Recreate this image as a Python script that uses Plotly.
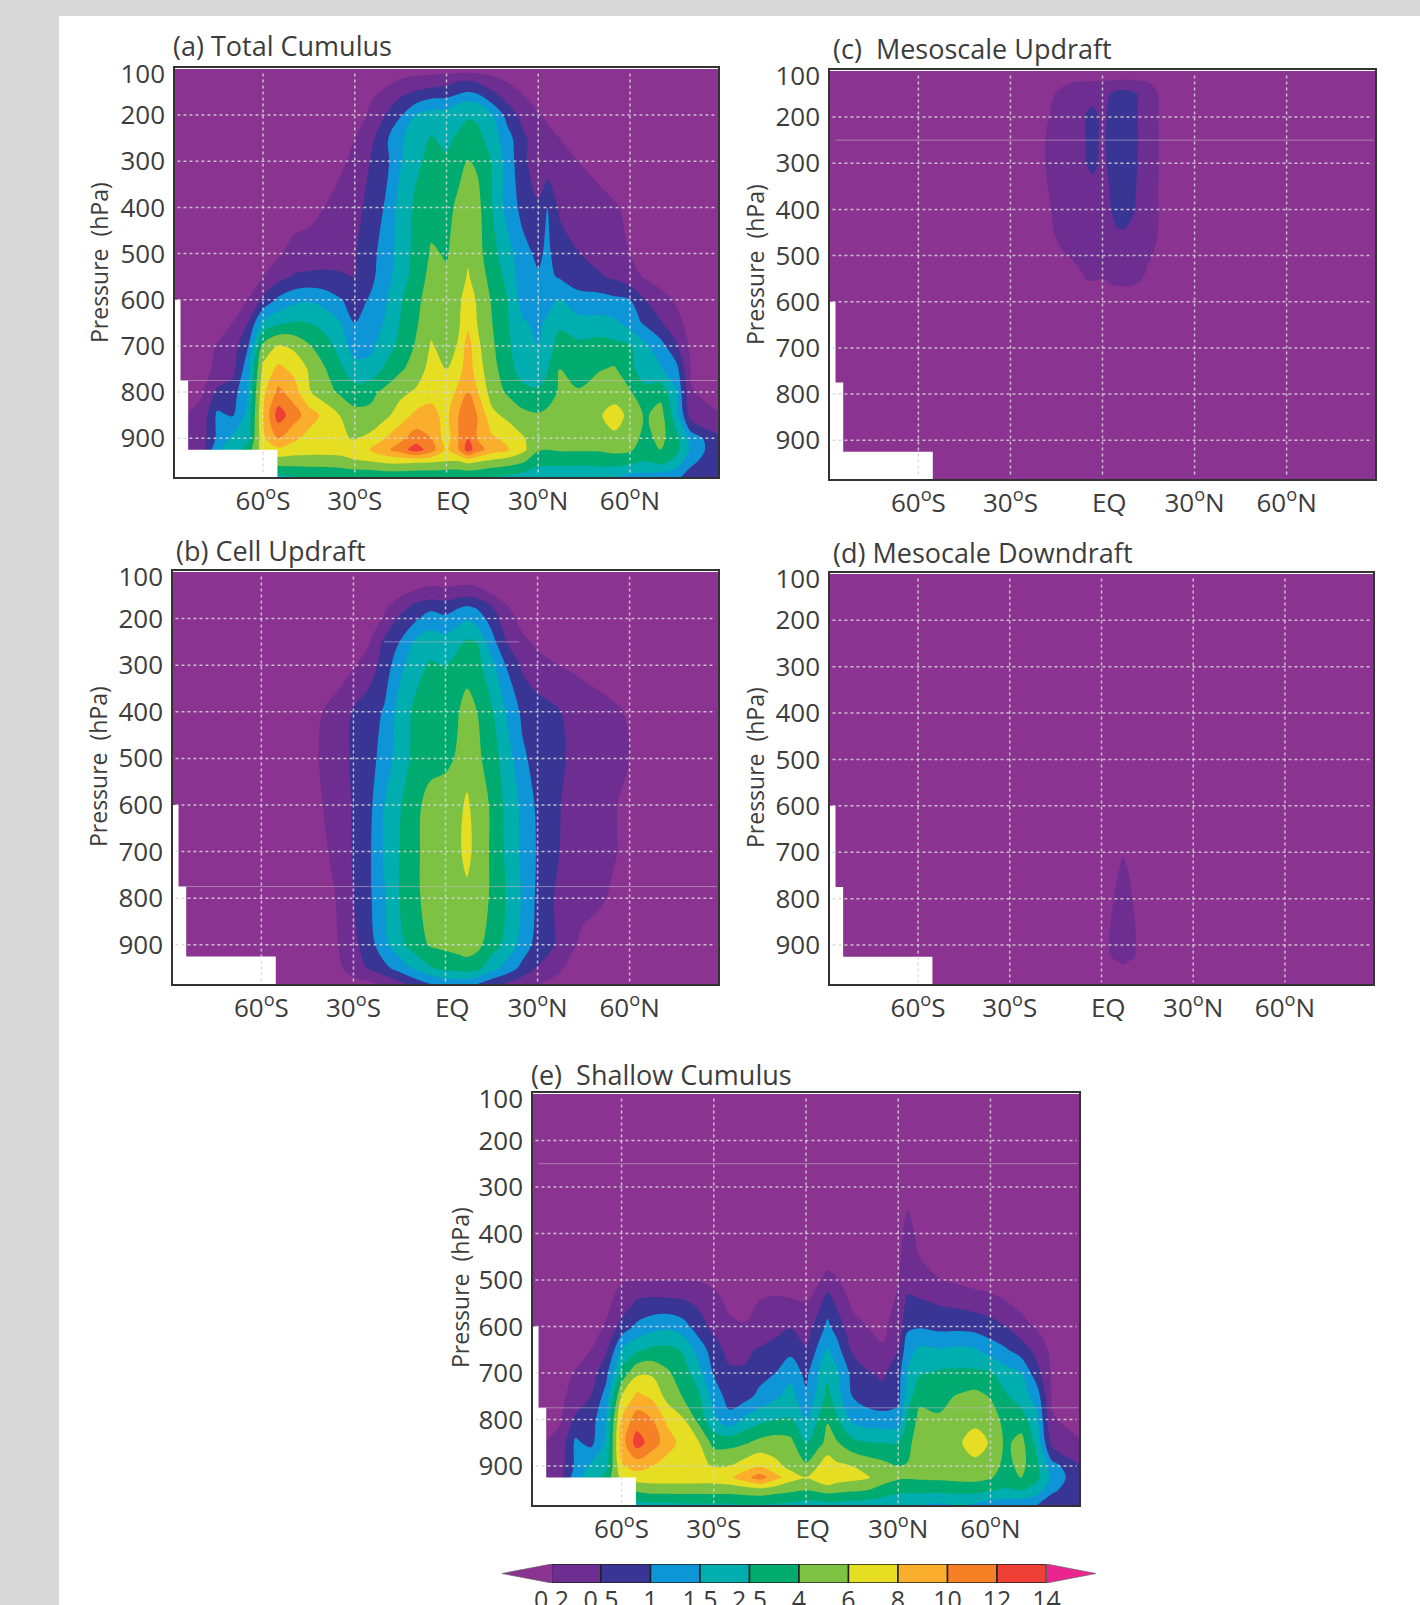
import numpy as np
import plotly.graph_objects as go

# ---- shared ----
LEVELS = [0.2, 0.5, 1, 1.5, 2.5, 4, 6, 8, 10, 12, 14]
LEVEL_LABELS = ["0.2", "0.5", "1", "1.5", "2.5", "4", "6", "8", "10", "12", "14"]
BAND_COLORS = ["#8b3390", "#6e2d91", "#393594", "#0d95d8", "#00aeb0", "#00ab6f",
               "#7dc242", "#e6de22", "#fbae2b", "#f58025", "#ee4036", "#ec2490"]
LAT_TICKS = [-60, -30, 0, 30, 60]
LAT_LABELS = ["60<sup>o</sup>S", "30<sup>o</sup>S", "\u00a0\u00a0EQ", "30<sup>o</sup>N", "60<sup>o</sup>N"]
P_TICKS = [100, 200, 300, 400, 500, 600, 700, 800, 900]
MASK_LAT = [-90, -87, -87, -84.5, -84.5, -55.3, -55.3, -90]
MASK_P = [600, 600, 775, 775, 925, 925, 990, 990]

LAT_WIDE = [-89, -80, -75, -70, -65, -60, -55, -50, -45, -40, -35,
            -30, -25, -20, -15, -10, -5, 0,
            4, 7, 10, 15, 20, 25, 30,
            33, 37, 43, 50, 55, 60, 65, 70, 75, 80, 89]

# ---- (a) Total Cumulus ----
P_A = [100, 125, 150, 175, 200, 250, 300, 400, 500, 550, 600, 650, 700, 750, 800, 850, 900, 925, 950, 985]
Z_A = [
 [.1,.1,.1,.1,.1,.1,.1,.1,.1,.1,.1, .1,.1,.1,.1,.1,.1,.1, .1,.1,.1,.1,.1,.1,.1, .1,.1,.1,.1,.1,.1,.1,.1,.1,.1,.1],
 [.1,.1,.1,.1,.1,.1,.1,.1,.1,.1,.1, .1,.1,.15,.22,.3,.35,.4, .48,.5,.45,.3,.18,.12,.1, .1,.1,.1,.1,.1,.1,.1,.1,.1,.1,.1],
 [.1,.1,.1,.1,.1,.1,.1,.1,.1,.1,.1, .1,.15,.25,.4,.55,.65,.7, .9,1,.9,.55,.35,.18,.12, .1,.1,.1,.1,.1,.1,.1,.1,.1,.1,.1],
 [.1,.1,.1,.1,.1,.1,.1,.1,.1,.1,.1, .1,.2,.35,.7,1,1.25,1.3, 1.5,1.7,1.6,1,.5,.3,.15, .12,.1,.1,.1,.1,.1,.1,.1,.1,.1,.1],
 [.1,.1,.1,.1,.1,.1,.1,.1,.1,.1,.1, .15,.22,.5,.95,1.55,1.9,1.9, 2.1,2.4,2.3,1.5,.8,.4,.22, .18,.12,.1,.1,.1,.1,.1,.1,.1,.1,.1],
 [.1,.1,.1,.1,.1,.1,.1,.1,.1,.1,.15, .2,.4,.9,1.4,2.2,2.6,2.3, 2.8,3.1,3,2,1.2,.6,.35, .25,.2,.13,.1,.1,.1,.1,.1,.1,.1,.1],
 [.1,.1,.1,.1,.1,.1,.1,.1,.1,.12,.17, .25,.5,.85,1.45,2.3,2.9,2.7, 3.5,4.1,3.8,2.4,1.3,.6,.35, .3,.25,.2,.15,.12,.1,.1,.1,.1,.1,.1],
 [.1,.1,.1,.1,.1,.1,.1,.1,.14,.2,.28, .4,.65,1.05,1.9,2.8,3.5,3.5, 4.5,5.3,4.7,2.5,1.3,.85,.55, 1.0,.45,.33,.27,.22,.17,.12,.1,.1,.1,.1],
 [.1,.1,.1,.1,.1,.12,.17,.3,.32,.36,.4, .48,.8,1.25,1.9,3,4.2,3.9, 4.7,5.7,4.8,3,1.9,1.15,.9, 1.1,.75,.52,.4,.28,.2,.15,.1,.1,.1,.1],
 [.1,.1,.1,.1,.13,.2,.4,.55,.6,.6,.55, .5,.85,1.3,2,3.2,4.6,4.2, 5,6.2,5.2,3.4,2.2,1.2,1.05, 1.1,.95,.65,.55,.45,.3,.18,.12,.1,.1,.1],
 [.1,.1,.1,.12,.2,.6,1.1,1.35,1.45,1.3,1.05, .8,1.05,1.45,2.4,3.6,5,4.7, 5.6,7,5.8,3.8,2.5,1.3,1.1, 1.3,1.5,1.25,1.2,1.1,1,.5,.3,.18,.12,.1],
 [.1,.1,.12,.2,.5,1.7,2.3,2.6,2.5,2.2,1.6, 1,1.2,1.6,2.6,3.8,5.4,5, 5.8,7.4,6,4,2.6,1.6,1.4, 1.7,2.3,1.8,1.8,1.7,1.3,.9,.55,.3,.12,.1],
 [.1,.13,.22,.35,.95,4.5,6.2,5.6,4.2,3.1,2.2, 1.2,1.4,2,3,4.2,6.2,5.2, 6.2,9,6.5,4.3,2.8,1.8,1.5, 2,3.2,2.9,3.2,2.9,2.6,1.7,1.2,.6,.15,.1],
 [.1,.15,.25,.4,1.3,6.5,8.5,7.5,5.8,4.2,2.8, 2,1.8,2.8,3.8,4.8,6.8,6, 7.2,9.2,7,4.6,3.2,2,1.8, 2.4,4,3.3,3.9,4.2,3,1.9,1.6,1.2,.18,.1],
 [.12,.18,.6,.75,1.5,7.5,10.5,9,6.2,4.8,3.8, 3,3.6,4.5,5.5,6.3,7.5,6.8, 8.6,10,8.2,5,3.8,3,2.8, 3.2,4.3,4.2,5,5.1,4.2,3,3.5,1.6,.22,.12],
 [.15,.3,1.1,.95,1.8,8,13,11,9,7.5,6, 4.8,4.5,5.5,7,8.5,8.5,7.5, 10,12,10,6.5,5.5,4.5,4.2, 4.5,5.5,5,5.8,6.8,5.5,3.8,4.8,2,.35,.22],
 [.3,.35,1.1,1.7,2.2,7.5,10,8.5,7.3,6.8,6.2, 5.9,6.5,8,9.5,11,10,7, 10,12,10,8.3,7.5,6.2,4.8, 4.6,5,4.8,5,5.6,5,3.5,4.6,3,1.3,.6],
 [.5,.4,1.4,2,3,7,7.5,7,6.8,6.8,6.8, 7,8,9.5,11,13,11,7.5, 10,13,11,9,8.2,6.5,4.2, 4,4.2,4.2,4.2,4.5,4.3,3.2,4,3,1.4,.6],
 [.6,.9,1.3,1.9,3,4,5,5,5,5,5.2, 5.8,6,6.5,6.6,6.4,6.3,6, 6,6.6,6.2,5.5,5,4.3,3, 3,3,3,3.1,3.2,3,2.5,3,2.2,1.1,.7],
 [.6,.8,1,1.3,1.6,1.9,2.2,2.4,2.5,2.6,2.6, 2.7,2.7,2.8,2.8,2.7,2.7,2.6, 2.6,2.6,2.6,2.4,2.3,2,1.8, 1.7,1.7,1.6,1.6,1.5,1.3,1.3,1.2,1.1,.8,.7],
]

# ---- (b) Cell Updraft ----
LAT_B = [-89, -50, -45, -40, -35, -30, -25,
         -20, -15, -10, -5, 0, 4, 7,
         10, 15, 20, 25, 30, 35, 40,
         45, 50, 55, 60, 65, 70, 89]
P_B = [100, 125, 150, 175, 200, 250, 300, 400, 500, 600, 700, 800, 900, 950, 985]
Z_B = [
 [.1,.1,.1,.1,.1,.1,.1, .1,.1,.1,.1,.1,.1,.1, .1,.1,.1,.1,.1,.1,.1, .1,.1,.1,.1,.1,.1,.1],
 [.1,.1,.1,.1,.1,.1,.1, .1,.1,.12,.17,.15,.17,.18, .15,.1,.1,.1,.1,.1,.1, .1,.1,.1,.1,.1,.1,.1],
 [.1,.1,.1,.1,.1,.1,.1, .12,.18,.3,.38,.35,.42,.45, .42,.22,.14,.1,.1,.1,.1, .1,.1,.1,.1,.1,.1,.1],
 [.1,.1,.1,.1,.1,.1,.12, .17,.35,.65,.85,.8,.95,1.05, .95,.55,.22,.12,.1,.1,.1, .1,.1,.1,.1,.1,.1,.1],
 [.1,.1,.1,.1,.1,.1,.13, .22,.6,.9,1.25,1.1,1.3,1.45, 1.3,.8,.3,.15,.1,.1,.1, .1,.1,.1,.1,.1,.1,.1],
 [.1,.1,.1,.1,.1,.13,.18, .6,1,1.6,2,1.9,2.3,2.7, 2.5,1.2,.5,.25,.17,.13,.1, .1,.1,.1,.1,.1,.1,.1],
 [.1,.1,.1,.1,.12,.18,.35, .7,1.35,2.1,2.7,2.5,3,3.4, 3.1,1.8,.95,.45,.28,.22,.18, .15,.12,.1,.1,.1,.1,.1],
 [.1,.1,.13,.2,.3,.55,.75, 1.05,1.9,2.8,3.4,3.3,3.9,4.8, 4.1,2.7,1.45,.9,.75,.6,.45, .35,.3,.24,.18,.12,.1,.1],
 [.1,.1,.16,.22,.32,.6,.8, 1.2,2,2.9,3.5,3.7,4.2,5.2, 4.6,3.2,2,1.1,.8,.65,.48, .35,.3,.25,.2,.13,.1,.1],
 [.1,.1,.15,.2,.32,.55,.85, 1.5,2.4,3.6,4.7,4.9,5.5,6.3, 5.3,3.8,2.2,1.4,.9,.65,.42, .33,.28,.22,.15,.1,.1,.1],
 [.1,.1,.12,.17,.28,.55,.9, 1.6,2.5,3.7,4.8,5,5.6,6.6, 5.4,3.8,2.3,1.4,.95,.6,.42, .33,.28,.22,.15,.1,.1,.1],
 [.1,.1,.1,.13,.22,.5,.9, 1.45,2.5,3.7,4.7,4.9,5.2,5.5, 5.2,3.8,2.4,1.45,.9,.52,.35, .3,.24,.17,.12,.1,.1,.1],
 [.1,.1,.1,.12,.2,.42,.75, 1.35,2.2,3.2,4.2,4.5,4.8,5, 4.7,3.2,2.2,1.3,.8,.55,.28, .15,.12,.1,.1,.1,.1,.1],
 [.1,.1,.1,.1,.15,.35,.55, .85,1.2,1.7,2.4,2.9,3.1,3.3, 3,1.9,1.3,.85,.48,.3,.17, .12,.1,.1,.1,.1,.1,.1],
 [.1,.1,.1,.1,.1,.12,.15, .25,.4,.65,.95,1.1,1.15,1.15, 1,.65,.45,.3,.2,.15,.12, .1,.1,.1,.1,.1,.1,.1],
]

# ---- (c) Mesoscale Updraft ----
LAT_C = [-89, -25, -20, -15, -10, -7, -5, -3, 0, 3, 5, 7, 10, 13, 15, 18, 20, 25, 89]
P_C = [100, 125, 150, 200, 250, 300, 350, 400, 450, 500, 550, 600, 985]
Z_C = [
 [.1,.1,.1,.1,.1,.1,.1,.1,.1,.1,.1,.1,.1,.1,.1,.1,.1,.1,.1],
 [.1,.1,.1,.12,.2,.21,.22,.22,.22,.23,.24,.25,.24,.22,.2,.13,.1,.1,.1],
 [.1,.1,.1,.22,.3,.35,.42,.42,.38,.55,.7,.75,.6,.42,.3,.21,.12,.1,.1],
 [.1,.1,.15,.27,.32,.4,.55,.6,.45,.6,.8,.85,.65,.4,.3,.21,.13,.1,.1],
 [.1,.1,.18,.28,.33,.42,.55,.6,.45,.65,.85,.9,.7,.4,.3,.22,.14,.1,.1],
 [.1,.1,.18,.28,.33,.4,.52,.58,.45,.6,.8,.85,.65,.4,.3,.22,.14,.1,.1],
 [.1,.1,.17,.26,.3,.33,.4,.45,.42,.55,.75,.8,.6,.38,.28,.21,.13,.1,.1],
 [.1,.1,.15,.24,.28,.3,.34,.36,.38,.52,.65,.7,.55,.36,.28,.21,.13,.1,.1],
 [.1,.1,.12,.22,.26,.28,.3,.32,.36,.42,.48,.48,.42,.34,.27,.2,.12,.1,.1],
 [.1,.1,.1,.17,.22,.26,.28,.28,.3,.32,.34,.34,.32,.27,.23,.17,.1,.1,.1],
 [.1,.1,.1,.1,.13,.18,.21,.22,.2,.25,.27,.28,.26,.2,.15,.1,.1,.1,.1],
 [.1,.1,.1,.1,.1,.1,.1,.1,.1,.1,.1,.1,.1,.1,.1,.1,.1,.1,.1],
 [.1,.1,.1,.1,.1,.1,.1,.1,.1,.1,.1,.1,.1,.1,.1,.1,.1,.1,.1],
]

# ---- (d) Mesocale Downdraft ----
LAT_D = [-89, 0, 3, 5, 7, 9, 11, 13, 89]
P_D = [100, 650, 700, 750, 800, 850, 900, 925, 950, 985]
Z_D = [
 [.1,.1,.1,.1,.1,.1,.1,.1,.1],
 [.1,.1,.1,.1,.1,.1,.1,.1,.1],
 [.1,.1,.1,.12,.19,.12,.1,.1,.1],
 [.1,.1,.12,.19,.26,.2,.12,.1,.1],
 [.1,.1,.17,.24,.3,.25,.17,.1,.1],
 [.1,.12,.2,.27,.33,.28,.2,.1,.1],
 [.1,.13,.22,.29,.35,.31,.22,.12,.1],
 [.1,.12,.2,.26,.3,.27,.2,.11,.1],
 [.1,.1,.1,.12,.17,.12,.1,.1,.1],
 [.1,.1,.1,.1,.1,.1,.1,.1,.1],
]

# ---- (e) Shallow Cumulus ----
P_E = [100, 300, 350, 400, 450, 500, 550, 600, 650, 700, 750, 800, 850, 900, 925, 950, 985]
Z_E = [
 [.1,.1,.1,.1,.1,.1,.1,.1,.1,.1,.1, .1,.1,.1,.1,.1,.1,.1, .1,.1,.1,.1,.1,.1,.1, .1,.1,.1,.1,.1,.1,.1,.1,.1,.1,.1],
 [.1,.1,.1,.1,.1,.1,.1,.1,.1,.1,.1, .1,.1,.1,.1,.1,.1,.1, .1,.1,.1,.1,.1,.1,.1, .1,.1,.1,.1,.1,.1,.1,.1,.1,.1,.1],
 [.1,.1,.1,.1,.1,.1,.1,.1,.1,.1,.1, .1,.1,.1,.1,.1,.1,.1, .1,.1,.1,.1,.1,.1,.1, .2,.12,.1,.1,.1,.1,.1,.1,.1,.1,.1],
 [.1,.1,.1,.1,.1,.1,.1,.1,.1,.1,.1, .1,.1,.1,.1,.1,.1,.1, .1,.1,.1,.1,.1,.1,.13, .3,.15,.1,.1,.1,.1,.1,.1,.1,.1,.1],
 [.1,.1,.1,.1,.1,.1,.1,.1,.1,.1,.1, .1,.1,.1,.1,.1,.1,.1, .1,.1,.1,.1,.1,.1,.17, .33,.2,.1,.1,.1,.1,.1,.1,.1,.1,.1],
 [.1,.1,.1,.1,.13,.19,.2,.2,.2,.2,.19, .16,.1,.1,.12,.14,.13,.1, .17,.3,.22,.1,.1,.12,.19, .35,.26,.22,.16,.12,.1,.1,.1,.1,.1,.1],
 [.1,.1,.1,.1,.17,.28,.6,.68,.65,.6,.45, .3,.17,.14,.22,.24,.23,.21, .4,.8,.45,.17,.14,.14,.24, .65,.6,.48,.43,.38,.32,.22,.15,.1,.1,.1],
 [.1,.1,.1,.15,.22,.7,1.1,1.3,1.4,1.2,.75, .42,.25,.22,.3,.38,.48,.35, .75,1.1,.8,.3,.2,.17,.3, .9,.95,.85,.85,.8,.7,.5,.3,.18,.1,.1],
 [.1,.1,.13,.2,.45,1.5,2.3,2.8,2.9,2.4,1.3, .75,.4,.45,.55,.7,.85,.55, 1.1,1.6,1.2,.45,.3,.22,.5, 1.3,1.7,1.6,1.7,1.6,1.25,1.05,.75,.4,.15,.1],
 [.1,.13,.22,.35,.85,3,5.6,5.7,4.3,3.2,1.9, .95,.6,.55,.8,1,1.35,.85, 1.5,2.3,1.7,.85,.55,.45,.8, 1.6,2.4,2.7,2.8,2.8,2.7,1.9,1.5,.7,.17,.1],
 [.1,.16,.3,.5,1.2,6,8.5,7.6,5.3,3.9,2.8, 1.3,.8,.8,1.15,1.4,1.9,1.1, 1.8,3,1.9,1,.8,.65,.85, 2,3.6,3.6,4.2,4.6,3.9,2.7,2,1.3,.18,.12],
 [.12,.18,.6,.75,1.5,8.2,11,10,7.5,6.2,3.6, 1.7,1.15,1.7,2.2,2.5,2.6,1.5, 2.6,3.9,2.7,1.4,1.2,1.2,1.2, 2.8,4.6,4.2,5,5.4,5,3.5,3.2,1.8,.22,.15],
 [.15,.3,1.1,.85,1.7,9,13,11,9,7.2,6.2, 3.5,3.5,3.8,4.6,5,4.6,2.4, 3.5,4.6,4.2,3,2.6,2.5,2.5, 3.6,5,4.8,5.8,7,5.8,3.7,4.7,2.2,.4,.22],
 [.3,.35,1.1,1.7,2.2,7.8,8.8,8,7,6.5,6.3, 5.9,6,7,7.8,6.5,5.5,4.4, 6,7.2,6.4,6,5.2,4.6,4, 4.1,5,4.7,5,5.4,5,3.5,4.6,2.9,1.2,.55],
 [.5,.4,1.3,2,3,6.5,7,7,7,7,7, 7,7.5,9.2,11,8.8,6.8,6.1, 7,8,7,6.6,6.2,5,4.3, 4.2,4.3,4.4,4.6,4.6,4.2,3.2,4.1,2.9,1.4,.6],
 [.6,.9,1.3,1.9,2.8,3.7,4.5,5,5,5,5, 5,5,5.2,5.5,5,4.6,4.2, 4.6,5,4.8,4.5,4.2,3.5,3, 3,3,3,3.1,3.2,2.8,2.4,2.7,2.1,1.1,.7],
 [.6,.8,1,1.3,1.6,1.8,2.1,2.2,2.2,2.3,2.3, 2.3,2.3,2.4,2.4,2.3,2.2,2, 2,2.1,2.1,2,1.9,1.8,1.6, 1.5,1.5,1.4,1.5,1.4,1.2,1.2,1.1,1,.75,.7],
]

W, H = 1420, 1605
FONT = "Open Sans"
TXT = "#3c3c3c"
GRID = "rgba(215,215,215,0.85)"
FAINT = "rgba(200,185,205,0.55)"


def to_index(z):
    """Piecewise-linear position of a value among the non-uniform contour levels."""
    z = np.asarray(z, dtype=float)
    t = np.interp(z, LEVELS, np.arange(len(LEVELS)))
    t = np.where(z < LEVELS[0], z / LEVELS[0] - 1, t)
    t = np.where(z > LEVELS[-1], len(LEVELS) - 1 + (z - LEVELS[-1]) / 2, t)
    return t


# plotly looks band k up one step further along its colour domain, so the
# steps are laid out one place later than the band order
n = len(BAND_COLORS)
colorscale = [[0, BAND_COLORS[0]], [2 / n, BAND_COLORS[0]]]
for k in range(1, n - 1):
    colorscale += [[(k + 1) / n, BAND_COLORS[k]], [(k + 2) / n, BAND_COLORS[k]]]

panels = [
    dict(title="(a)\u00a0Total Cumulus", lat=LAT_WIDE, p=P_A, z=Z_A, box=(175, 718, 68, 477),
         tx=171, ty=45, lx=99, ly=263, faint=[(775, -87, 88.5)]),
    dict(title="(b)\u00a0Cell Updraft", lat=LAT_B, p=P_B, z=Z_B, box=(173, 718, 571, 984),
         tx=174, ty=550, lx=98, ly=767, faint=[(250, -20, 24), (775, -87, 88.5)]),
    dict(title="(c)\u00a0\u00a0Mesoscale Updraft", lat=LAT_C, p=P_C, z=Z_C, box=(830, 1375, 70, 479),
         tx=831, ty=48, lx=755, ly=264, faint=[(250, -87, 88.5)]),
    dict(title="(d)\u00a0Mesocale Downdraft", lat=LAT_D, p=P_D, z=Z_D, box=(830, 1373, 573, 984),
         tx=831, ty=552, lx=755, ly=767, faint=[]),
    dict(title="(e)\u00a0\u00a0Shallow Cumulus", lat=LAT_WIDE, p=P_E, z=Z_E, box=(533, 1079, 1093, 1505),
         tx=529, ty=1074, lx=460, ly=1288, faint=[(250, -87, 88.5), (775, -87, 88.5)]),
]

fig = go.Figure()
shapes = [dict(type="rect", xref="paper", yref="paper", x0=59 / W, x1=1, y0=0, y1=1 - 16 / H,
               fillcolor="white", line_width=0, layer="below")]
annotations = []
layout = {}

for i, pn in enumerate(panels, start=1):
    sfx = "" if i == 1 else str(i)
    xa, ya = f"x{sfx}", f"y{sfx}"
    x0, x1, y0, y1 = pn["box"]
    for row in pn["z"]:
        assert len(row) == len(pn["lat"]), (pn["title"], len(row))
    assert len(pn["z"]) == len(pn["p"])
    fig.add_trace(go.Contour(
        x=pn["lat"], y=pn["p"], z=to_index(pn["z"]).tolist(), xaxis=xa, yaxis=ya,
        colorscale=colorscale, showscale=False, hoverinfo="skip",
        contours=dict(start=-1, end=10, size=1, coloring="fill", showlines=False),
        line=dict(width=0, smoothing=1.0),
    ))
    fig.add_trace(go.Scatter(
        x=MASK_LAT, y=MASK_P, xaxis=xa, yaxis=ya, mode="lines", fill="toself",
        fillcolor="white", line=dict(width=0), hoverinfo="skip", showlegend=False,
    ))
    layout[f"xaxis{sfx}"] = dict(
        domain=[x0 / W, x1 / W], range=[-88.8, 88.8], anchor=ya,
        tickmode="array", tickvals=LAT_TICKS, ticktext=LAT_LABELS, ticks="",
        tickfont=dict(family=FONT, size=26, color=TXT),
        showgrid=False, zeroline=False, showline=True, mirror=True,
        linecolor="#333333", linewidth=1.5,
    )
    # the top label sits just under the frame in the reference
    layout[f"yaxis{sfx}"] = dict(
        domain=[1 - y1 / H, 1 - y0 / H], range=[984, 98], anchor=xa,
        tickmode="array", tickvals=[111] + P_TICKS[1:], ticktext=[str(v) for v in P_TICKS],
        ticks="outside", ticklen=3, tickcolor="rgba(0,0,0,0)",
        tickfont=dict(family=FONT, size=26, color=TXT),
        showgrid=False, zeroline=False, showline=True, mirror=True,
        linecolor="#333333", linewidth=1.5,
    )
    for v in LAT_TICKS:
        shapes.append(dict(type="line", xref=xa, yref=ya, x0=v, x1=v, y0=110, y1=980,
                           line=dict(color=GRID, width=1.5, dash="dot"), layer="above"))
    for v in P_TICKS[1:]:
        shapes.append(dict(type="line", xref=xa, yref=ya, x0=-88, x1=88, y0=v, y1=v,
                           line=dict(color=GRID, width=1.5, dash="dot"), layer="above"))
    for v, a, b in pn["faint"]:
        shapes.append(dict(type="line", xref=xa, yref=ya, x0=a, x1=b, y0=v, y1=v,
                           line=dict(color=FAINT, width=1), layer="above"))
    annotations.append(dict(text=pn["title"], xref="paper", yref="paper", x=pn["tx"] / W, y=1 - pn["ty"] / H,
                            xanchor="left", yanchor="middle", showarrow=False,
                            font=dict(family=FONT, size=27, color=TXT)))
    annotations.append(dict(text="Pressure\u00a0\u00a0(hPa)", xref="paper", yref="paper", x=pn["lx"] / W,
                            y=1 - pn["ly"] / H, xanchor="center", yanchor="middle", textangle=-90,
                            showarrow=False, font=dict(family=FONT, size=23, color=TXT)))

# ---- colour key ----
CB_X = (502, 1096)
CB_Y = (1564, 1583)
nbox = len(LEVELS) - 1
for k in range(nbox):
    fig.add_trace(go.Bar(x=[1], y=[0], base=[k], width=[1], orientation="h", xaxis="x6", yaxis="y6",
                         marker=dict(color=BAND_COLORS[k + 1], line=dict(color="#222222", width=1.5)),
                         hoverinfo="skip", showlegend=False))
fig.add_trace(go.Scatter(x=[-1, 0, 0, -1], y=[0, 0.5, -0.5, 0], xaxis="x6", yaxis="y6", mode="lines",
                         fill="toself", fillcolor=BAND_COLORS[0], line=dict(color="#666666", width=0.7),
                         hoverinfo="skip", showlegend=False))
fig.add_trace(go.Scatter(x=[nbox + 1, nbox, nbox, nbox + 1], y=[0, 0.5, -0.5, 0], xaxis="x6", yaxis="y6",
                         mode="lines", fill="toself", fillcolor=BAND_COLORS[-1],
                         line=dict(color="#666666", width=0.7), hoverinfo="skip", showlegend=False))
layout["xaxis6"] = dict(domain=[CB_X[0] / W, CB_X[1] / W], range=[-1, nbox + 1], anchor="y6",
                        tickmode="array", tickvals=list(range(len(LEVELS))), ticktext=LEVEL_LABELS,
                        ticks="", showgrid=False, zeroline=False, showline=False,
                        tickfont=dict(family=FONT, size=25, color=TXT))
layout["yaxis6"] = dict(domain=[1 - CB_Y[1] / H, 1 - CB_Y[0] / H], range=[-0.5, 0.5], anchor="x6",
                        visible=False, fixedrange=True)

fig.update_layout(width=W, height=H, margin=dict(l=0, r=0, t=0, b=0, autoexpand=False), paper_bgcolor="#d9d9d9",
                  plot_bgcolor="white", showlegend=False, barmode="overlay",
                  shapes=shapes, annotations=annotations, **layout)
fig.write_html("out.html", config=dict(displayModeBar=False),
               post_script="document.body.style.margin='0';")
